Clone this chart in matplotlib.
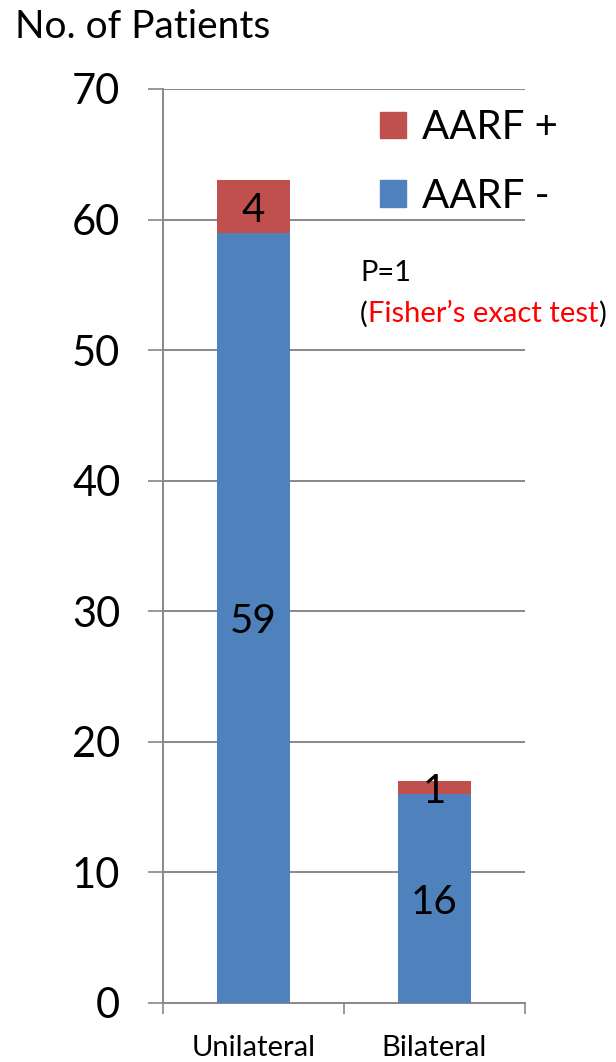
import matplotlib
matplotlib.use("Agg")
import matplotlib.pyplot as plt
from matplotlib.patches import Patch
from matplotlib.transforms import offset_copy

categories = ["Unilateral", "Bilateral"]
aarf_neg = [59, 16]
aarf_pos = [4, 1]
yticks = [0, 10, 20, 30, 40, 50, 60, 70]

plt.rcParams['font.family'] = ['Lato', 'DejaVu Sans']

RED = "#C0504D"
BLUE = "#4F81BD"
GRID = "#888888"

fig = plt.figure(figsize=(6.16, 10.62), dpi=100)
ax = fig.add_axes([163/616, 1-1003/1062, (525-163)/616, (1003-89)/1062])

x = list(range(len(categories)))
ax.bar(x, aarf_neg, width=0.4, color=BLUE, zorder=3)
ax.bar(x, aarf_pos, width=0.4, bottom=aarf_neg, color=RED, zorder=3)

tr = offset_copy(ax.transData, fig=fig, x=0, y=-3, units='points')
for i in x:
    ax.text(i, aarf_neg[i] / 2, str(aarf_neg[i]), ha='center', va='center', fontsize=29, zorder=4, transform=tr)
    ax.text(i, aarf_neg[i] + aarf_pos[i] / 2, str(aarf_pos[i]), ha='center', va='center', fontsize=29, zorder=4, transform=tr)

ax.set_xlim(-0.5, 1.5)
ax.set_ylim(0, 70)
ax.set_yticks(yticks)
ax.set_yticklabels([str(v) for v in yticks], fontsize=30)
ax.tick_params(axis='y', length=10.8, width=1.2, color=GRID, pad=20)
ax.yaxis.grid(True, color=GRID, linewidth=1.4, zorder=0)

ax.set_xticks(x)
ax.set_xticklabels(categories, fontsize=21)
ax.set_xticks([-0.5, 0.5, 1.5], minor=True)
ax.tick_params(axis='x', which='major', length=0, pad=23)
ax.tick_params(axis='x', which='minor', length=8, width=1.2, color=GRID)

for s in ['top', 'right']:
    ax.spines[s].set_visible(False)
for s in ['left', 'bottom']:
    ax.spines[s].set_color(GRID)
    ax.spines[s].set_linewidth(1.4)

handles = [Patch(color=RED, label="AARF +"), Patch(color=BLUE, label="AARF -")]
fig.legend(handles=handles, loc='upper left', bbox_to_anchor=(360/616, 1-89/1062),
           frameon=False, fontsize=29, handlelength=0.65, handleheight=0.65,
           handletextpad=0.4, labelspacing=0.78, borderpad=0)

fig.text(15/616, 1-27/1062, "No. of Patients", fontsize=28, ha='left', va='center')
fig.text(360/616, 1-273/1062, "P=1", fontsize=21, ha='left', va='center')
t1 = fig.text(360/616, 1-314/1062, "(", fontsize=21, ha='left', va='center')
fig.canvas.draw()
r = fig.canvas.get_renderer()
bb = t1.get_window_extent(r)
t2 = fig.text(bb.x1/616, 1-314/1062, "Fisher\u2019s exact test", fontsize=21, ha='left', va='center', color='red')
bb2 = t2.get_window_extent(r)
fig.text(bb2.x1/616, 1-314/1062, ")", fontsize=21, ha='left', va='center')

fig.savefig("out.png", dpi=100)
